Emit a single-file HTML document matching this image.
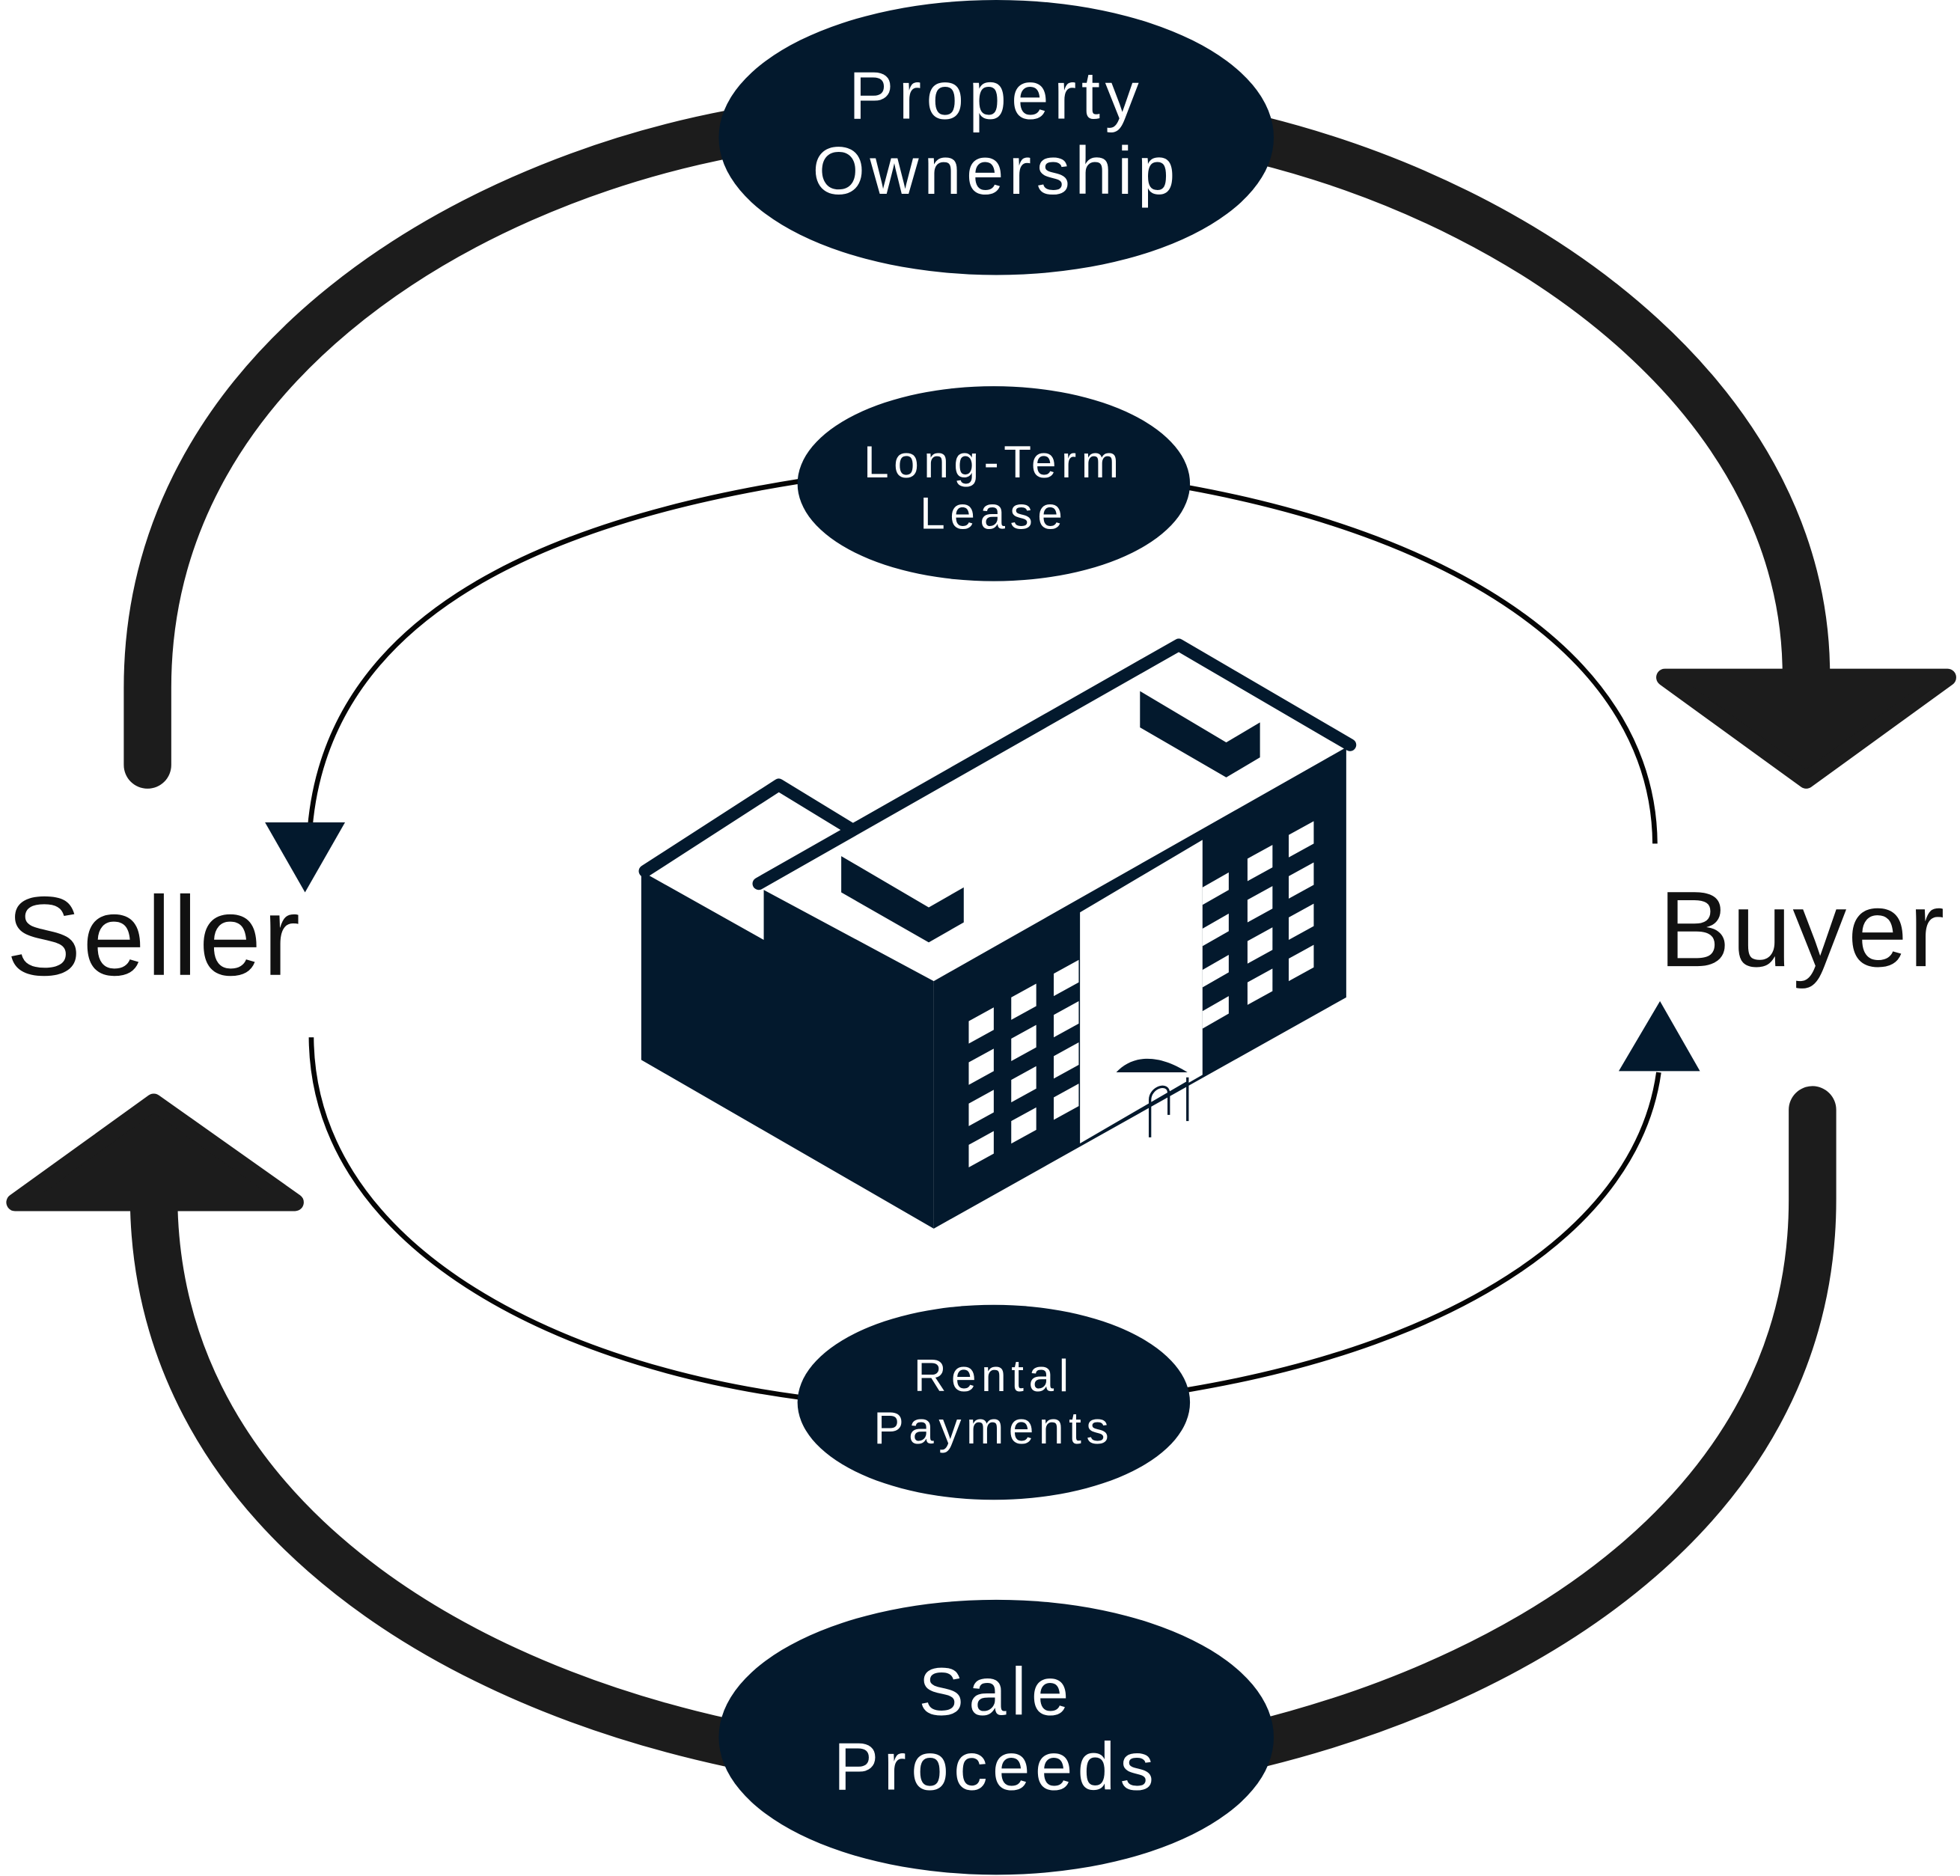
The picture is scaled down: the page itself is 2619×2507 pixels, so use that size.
<!DOCTYPE html>
<html><head><meta charset="utf-8"><style>
html,body{margin:0;padding:0;background:#fff;}
svg{display:block}
text{font-family:"Liberation Sans",sans-serif;}
</style></head><body>
<svg width="2619" height="2507" viewBox="0 0 1568 1501" xmlns="http://www.w3.org/2000/svg">
<g fill="none" stroke="#1c1c1c" stroke-width="38" stroke-linecap="round">
<path d="M118,612 L118,550 C118,300 360,150 585,107"/>
<path d="M1008,112 C1240,170 1445,330 1445,540"/>
<path d="M1450,888 L1450,960 C1450,1200 1230,1340 1008,1395"/>
<path d="M585,1395 C330,1340 125,1190 123,960"/>
</g>
<g fill="#1c1c1c" stroke="#1c1c1c" stroke-width="14" stroke-linejoin="round">
<polygon points="1332,542 1558,542 1445,624"/>
<polygon points="12,962 236,962 123,882"/>
</g>
<g fill="none" stroke="#050505" stroke-width="4">
<path d="M640,385 C420,420 262,500 248,662"/>
<path d="M950,390 C1170,430 1323,530 1324,675"/>
<path d="M249,830 C250,990 430,1090 640,1118"/>
<path d="M950,1112 C1170,1075 1310,980 1327,858"/>
</g>
<g fill="#03192d">
<polygon points="212,658 276,658 244,714"/>
<polygon points="1295,857 1360,857 1328,801"/>
<ellipse cx="797" cy="110" rx="222" ry="110"/>
<ellipse cx="797" cy="1390" rx="222" ry="110"/>
<ellipse cx="795" cy="387" rx="157" ry="78"/>
<ellipse cx="795" cy="1122" rx="157" ry="78"/>
</g>
<g fill="#fff" text-anchor="middle" letter-spacing="4">
<text x="797" y="95" font-size="54">Property</text>
<text x="797" y="155" font-size="54">Ownership</text>
<text x="797" y="1372" font-size="54">Sale</text>
<text x="797" y="1432" font-size="54">Proceeds</text>
<text x="795" y="382" font-size="36">Long-Term</text>
<text x="795" y="423" font-size="36">Lease</text>
<text x="795" y="1113" font-size="36">Rental</text>
<text x="795" y="1155" font-size="36">Payments</text>
</g>
<text x="5" y="780" font-size="90" fill="#111" letter-spacing="1">Seller</text>
<text x="1327" y="773" font-size="86" fill="#111" letter-spacing="1">Buyer</text>
<!-- building -->
<g fill="#03192d">
<polygon points="513,697 611,752 611,712 747,785 747,983 513,848"/>
<polygon points="747,785 1077,598 1077,798 747,983"/>
<polygon points="912,553 981,594 1008,578 1008,606 981,622 912,582"/>
<polygon points="673,685 743,726 771,710 771,738 743,754 673,714"/>
</g>
<g fill="none" stroke="#03192d" stroke-width="10" stroke-linecap="round" stroke-linejoin="round">
<polyline points="516,697 623,628 682,664"/>
<polyline points="607,707 943,516 1080,596"/>
</g>
<polygon points="864,730 962,672 962,860 864,916" fill="#fff"/>
<path d="M893,858 C905,845 925,842 950,858" fill="#03192d"/>
<path d="M920,910 L920,880 C920,870 935,865 935,875 L935,892 M950,897 L950,862 M864,916 L950,866" stroke="#03192d" stroke-width="2" fill="none"/>
<g fill="#fff">
<g id="c1">
<polygon points="775,817 795,806 795,824 775,835"/>
<polygon points="775,850 795,839 795,857 775,868"/>
<polygon points="775,883 795,872 795,890 775,901"/>
<polygon points="775,916 795,905 795,923 775,934"/>
</g>
<use href="#c1" transform="translate(34,-19)"/>
<use href="#c1" transform="translate(68,-38)"/>
<g id="c2">
<polygon points="998,687 1018,676 1018,694 998,705"/>
<polygon points="998,720 1018,709 1018,727 998,738"/>
<polygon points="998,753 1018,742 1018,760 998,771"/>
<polygon points="998,786 1018,775 1018,793 998,804"/>
</g>
<use href="#c2" transform="translate(33,-19)"/>
<polygon points="962,710 983,698 983,712 962,724"/>
<polygon points="962,743 983,731 983,745 962,757"/>
<polygon points="962,776 983,764 983,778 962,790"/>
<polygon points="962,809 983,797 983,811 962,823"/>
</g>
</svg>
</body></html>
